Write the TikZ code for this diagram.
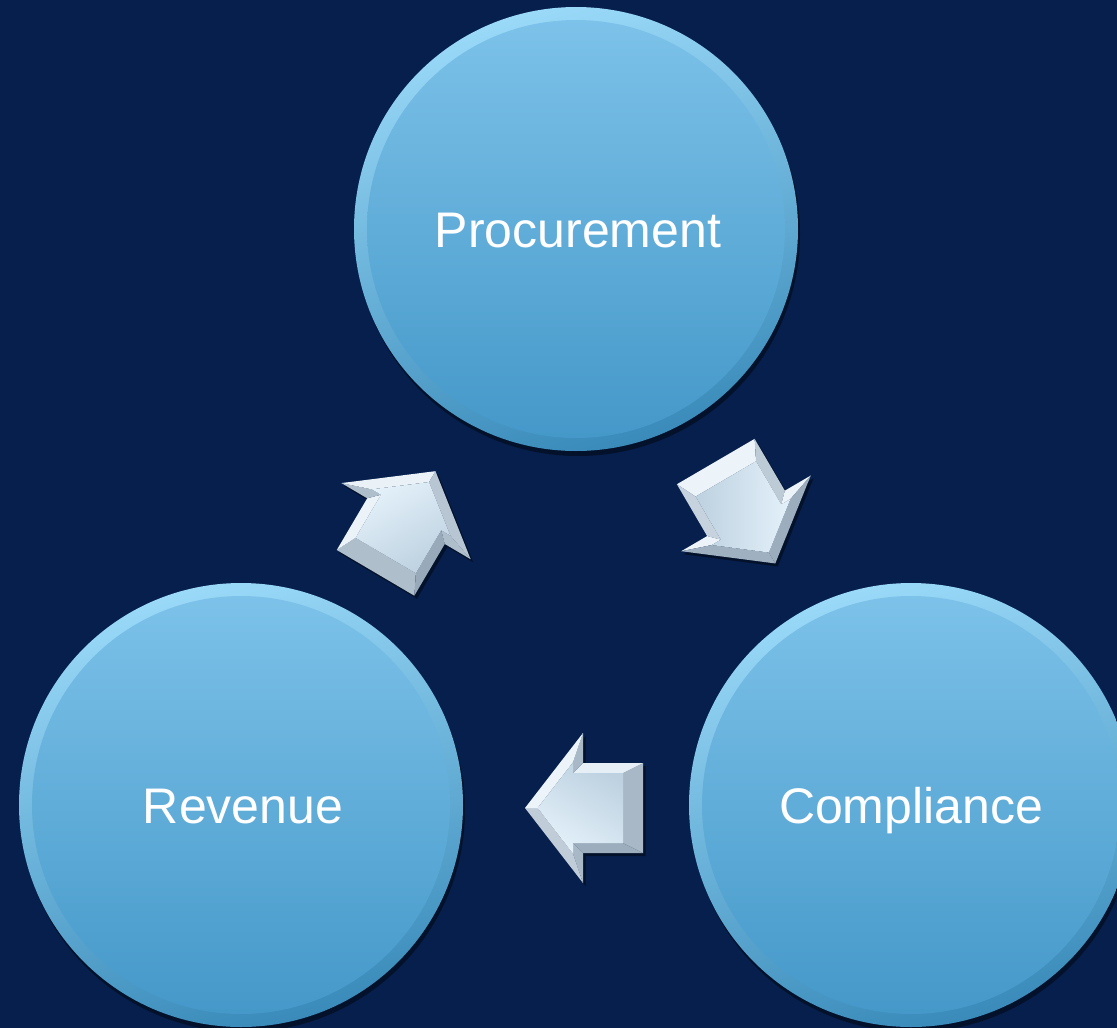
\documentclass[tikz,border=0pt]{standalone}
\usepackage{fontspec}
\setmainfont{Liberation Sans}
\usetikzlibrary{calc,shadows}
\definecolor{bg}{HTML}{061F4D}
\definecolor{rimtop}{HTML}{9AD9F8}
\definecolor{rimbot}{HTML}{3A8BBA}
\definecolor{facetop}{HTML}{7EC3EA}
\definecolor{facemid}{HTML}{4EACDD}
\definecolor{facebot}{HTML}{4397C8}
\definecolor{arrlight}{HTML}{F2F9FE}
\definecolor{arrdark}{HTML}{7A90A4}
\definecolor{arrface1}{HTML}{E4F1FA}
\definecolor{arrface2}{HTML}{BDD1E0}
\tikzset{
  disc/.style={circle, minimum size=444pt, inner sep=0pt, text=white,
    font=\fontsize{50}{60}\selectfont, text height=36pt, text depth=0pt,
    shading=axis, top color=rimtop, bottom color=rimbot, shading angle=15,
    drop shadow={shadow xshift=2pt, shadow yshift=-5pt, fill=black, opacity=0.45},
    path picture={
      \shade[top color=facetop, middle color=facemid, bottom color=facebot]
        (path picture bounding box.center) circle (209pt);
    }},
  arrshadow/.style={fill=black, opacity=0.45},
}
\newcommand{\facet}[2]{%
  \pgfmathsetmacro\fb{int(max(5,min(95,60+38*cos(#1+\arrang-125))))}%
  \fill[arrlight!\fb!arrdark] #2;}
\newcommand{\bevarrow}[3]{%
  \def\arrang{#3}%
  \coordinate (#1) at (#2);
  \begin{scope}[shift={(#1)}, rotate=#3]
    \fill[arrshadow, shift={(-#3-50:4pt)}] (-59,45) -- (1,45) -- (1,75) -- (59,0) -- (1,-75) -- (1,-45) -- (-59,-45) -- cycle;
    \facet{180}{(-59,45) -- (-59,-45) -- (-39,-35) -- (-39,35) -- cycle}
    \facet{90}{(-59,45) -- (1,45) -- (11,35) -- (-39,35) -- cycle}
    \facet{270}{(-59,-45) -- (1,-45) -- (11,-35) -- (-39,-35) -- cycle}
    \facet{180}{(1,45) -- (1,75) -- (11,45.7) -- (11,35) -- cycle}
    \facet{180}{(1,-45) -- (1,-75) -- (11,-45.7) -- (11,-35) -- cycle}
    \facet{37.7}{(1,75) -- (59,0) -- (46.4,0) -- (11,45.7) -- cycle}
    \facet{-37.7}{(1,-75) -- (59,0) -- (46.4,0) -- (11,-45.7) -- cycle}
    \shade[shading=axis, top color=arrface1, bottom color=arrface2, shading angle=\arrang-30]
      (-39,35) -- (11,35) -- (11,45.7) -- (46.4,0) -- (11,-45.7) -- (11,-35) -- (-39,-35) -- cycle;
  \end{scope}}
\begin{document}
\begin{tikzpicture}[x=1pt,y=1pt]
  \clip (0,0) rectangle (1117,-1028);
  \fill[bg] (0,0) rectangle (1117,-1028);
  \node[disc] (proc) at (576,-229) {\hspace*{4pt}Procurement};
  \node[disc] (rev) at (241,-805) {\hspace*{4pt}Revenue};
  \node[disc] (comp) at (911,-805) {Compliance};
  \bevarrow{a1}{405.5,-522}{59.5}
  \bevarrow{a2}{745.5,-512.5}{-59.7}
  \bevarrow{a3}{584,-808}{180}
\end{tikzpicture}
\end{document}
